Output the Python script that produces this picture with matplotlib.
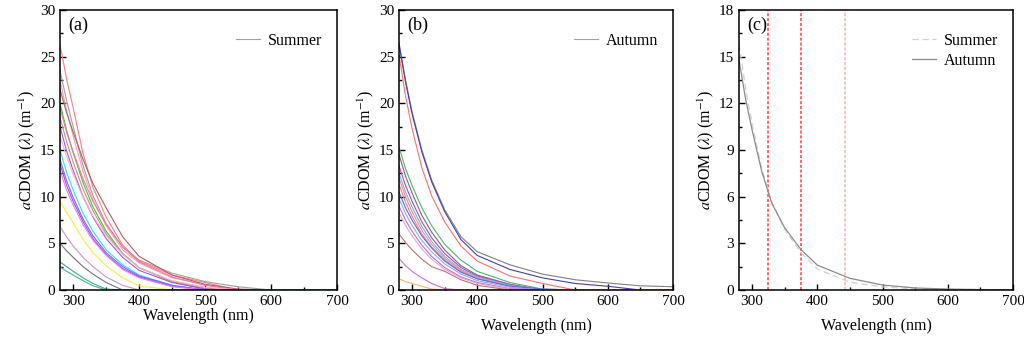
import numpy as np
import matplotlib.pyplot as plt
from matplotlib.ticker import MultipleLocator

plt.rcParams["font.family"] = ["Liberation Serif", "DejaVu Serif"]
plt.rcParams["mathtext.fontset"] = "stix"

WL = [280, 290, 300, 315, 330, 350, 375, 400, 450, 500, 550, 600, 650, 700]

# (a) summer stations: aCDOM (m^-1) at the WL knots
summer_colors = ["#ff7f7f", "#a0a0a0", "#ff9fb0", "#b06060", "#40c040", "#ff70b0",
                 "#d09070", "#9060e0", "#ffb0c8", "#30e0f0", "#6070ff", "#b040f0",
                 "#f080f0", "#f0f040", "#d090d0", "#707090", "#40b070", "#40b0b0"]
summer_curves = [
    [26.3, 22.6, 19.5, 14.6, 11.0, 7.8, 4.8, 3.1, 1.6, 0.8, 0.0, 0, 0, 0],
    [23.5, 20.3, 17.5, 13.3, 10.1, 7.1, 4.6, 3.2, 1.8, 0.9, 0.35, 0, 0, 0],
    [22.5, 19.2, 16.5, 12.7, 9.7, 6.9, 4.3, 2.9, 1.3, 0.6, 0, 0, 0, 0],
    [21.5, 19.0, 16.9, 14.0, 11.4, 8.8, 5.7, 3.6, 1.6, 0.6, 0.1, 0, 0, 0],
    [20.0, 17.1, 14.7, 11.5, 8.9, 6.3, 3.9, 2.4, 0.9, 0.1, 0, 0, 0, 0],
    [19.5, 16.9, 14.8, 11.9, 9.5, 7.0, 4.6, 3.0, 1.4, 0.5, 0, 0, 0, 0],
    [18.5, 15.9, 13.7, 10.8, 8.5, 6.0, 3.9, 2.4, 0.9, 0.2, 0, 0, 0, 0],
    [17.5, 14.9, 12.8, 10.0, 7.8, 5.5, 3.5, 2.1, 0.8, 0.1, 0, 0, 0, 0],
    [16.5, 14.3, 12.4, 9.9, 7.9, 5.8, 3.8, 2.4, 1.0, 0.3, 0, 0, 0, 0],
    [15.0, 12.6, 10.7, 8.2, 6.3, 4.3, 2.7, 1.6, 0.5, 0, 0, 0, 0, 0],
    [14.0, 11.7, 9.9, 7.6, 5.8, 4.0, 2.5, 1.5, 0.5, 0, 0, 0, 0, 0],
    [13.5, 11.2, 9.5, 7.3, 5.5, 3.8, 2.3, 1.4, 0.4, 0, 0, 0, 0, 0],
    [12.8, 10.7, 9.1, 7.0, 5.3, 3.7, 2.2, 1.3, 0.35, 0, 0, 0, 0, 0],
    [9.5, 8.3, 7.2, 5.4, 4.0, 2.6, 1.3, 0.45, 0, 0, 0, 0, 0, 0],
    [6.8, 5.7, 4.7, 3.5, 2.5, 1.4, 0.5, 0, 0, 0, 0, 0, 0, 0],
    [5.0, 4.2, 3.5, 2.5, 1.7, 0.8, 0, 0, 0, 0, 0, 0, 0, 0],
    [3.0, 2.5, 2.0, 1.3, 0.7, 0.1, 0, 0, 0, 0, 0, 0, 0, 0],
    [2.5, 2.0, 1.6, 1.0, 0.45, 0, 0, 0, 0, 0, 0, 0, 0, 0],
]

# (b) autumn stations
autumn_colors = ["#808080", "#4040b0", "#ff7070", "#50b070", "#707070", "#c040c0",
                 "#50c8c8", "#ff80c0", "#ff8070", "#5070e0", "#90a8ff", "#b070f0",
                 "#f0a0d0", "#c07070", "#d070d0", "#ffb070"]
autumn_curves = [
    [26.5, 22.5, 19.1, 15.0, 11.8, 8.6, 5.7, 4.1, 2.7, 1.7, 1.1, 0.75, 0.45, 0.35],
    [26.3, 22.3, 18.9, 14.8, 11.6, 8.4, 5.4, 3.7, 2.2, 1.3, 0.7, 0.4, 0, 0],
    [25.2, 20.8, 17.3, 13.1, 10.1, 7.3, 4.7, 3.1, 1.5, 0.7, 0, 0, 0, 0],
    [15.3, 13.0, 11.2, 8.8, 6.9, 4.9, 3.2, 2.0, 0.8, 0.1, 0, 0, 0, 0],
    [14.5, 12.2, 10.4, 8.0, 6.2, 4.3, 2.6, 1.6, 0.6, 0, 0, 0, 0, 0],
    [13.3, 11.2, 9.5, 7.3, 5.6, 3.9, 2.4, 1.5, 0.6, 0, 0, 0, 0, 0],
    [12.5, 10.5, 8.9, 6.8, 5.2, 3.6, 2.2, 1.4, 0.5, 0, 0, 0, 0, 0],
    [12.0, 10.0, 8.4, 6.4, 4.9, 3.4, 2.1, 1.3, 0.4, 0, 0, 0, 0, 0],
    [11.3, 9.4, 7.9, 6.0, 4.6, 3.2, 2.0, 1.2, 0.4, 0, 0, 0, 0, 0],
    [10.5, 8.8, 7.5, 5.8, 4.5, 3.1, 1.9, 1.2, 0.4, 0.1, 0, 0, 0, 0],
    [9.8, 8.2, 6.9, 5.3, 4.1, 2.8, 1.7, 1.0, 0.3, 0, 0, 0, 0, 0],
    [9.0, 7.5, 6.3, 4.8, 3.6, 2.4, 1.4, 0.8, 0.15, 0, 0, 0, 0, 0],
    [8.3, 6.9, 5.8, 4.4, 3.3, 2.2, 1.3, 0.7, 0.1, 0, 0, 0, 0, 0],
    [6.0, 5.1, 4.3, 3.3, 2.5, 2.0, 1.1, 0.5, 0, 0, 0, 0, 0, 0],
    [3.4, 2.6, 2.0, 1.3, 0.7, 0.15, 0, 0, 0, 0, 0, 0, 0, 0],
    [1.2, 0.9, 0.7, 0.4, 0.1, 0, 0, 0, 0, 0, 0, 0, 0, 0],
]

# (c) seasonal mean spectra
summer_mean = [15.8, 13.0, 10.7, 7.8, 5.7, 3.9, 2.4, 1.35, 0.5, 0.2, 0.07, 0.03, 0.01, 0]
autumn_mean = [14.8, 12.3, 10.3, 7.6, 5.6, 4.0, 2.6, 1.6, 0.75, 0.32, 0.13, 0.06, 0.03, 0.01]
ref_wl = [325, 375, 443]
ref_colors = ["#ff4040", "#ff4040", "#ffb0b0"]

YLAB = r"$a$CDOM ($\lambda$) (m$^{-1}$)"

fig = plt.figure(figsize=(10.24, 3.42), dpi=100)
axes = [fig.add_axes([60 / 1024, 52 / 342, 277 / 1024, 280 / 342]),
        fig.add_axes([399 / 1024, 52 / 342, 274 / 1024, 280 / 342]),
        fig.add_axes([739 / 1024, 52 / 342, 274 / 1024, 280 / 342])]


def style(ax, ymax, ystep, label, xpad):
    ax.set_xlim(280, 700)
    ax.set_ylim(0, ymax)
    ax.xaxis.set_major_locator(MultipleLocator(100))
    ax.xaxis.set_minor_locator(MultipleLocator(50))
    ax.yaxis.set_major_locator(MultipleLocator(ystep))
    ax.yaxis.set_minor_locator(MultipleLocator(ystep / 2))
    ax.tick_params(which="both", direction="in", top=False, right=False, labelsize=11)
    ax.tick_params(which="major", length=4, width=1)
    ax.tick_params(which="minor", length=2.5, width=1)
    for s in ax.spines.values():
        s.set_linewidth(1.1)
    ax.set_xlabel("Wavelength (nm)", fontsize=11.5, labelpad=xpad)
    ax.set_ylabel(YLAB, fontsize=11.5, labelpad=2)
    ax.text(0.03, 0.975, label, transform=ax.transAxes, fontsize=13, va="top", ha="left")


def season_legend(ax):
    ax.legend(loc="upper right", bbox_to_anchor=(1.0, 0.97), frameon=False, fontsize=11.5,
              handlelength=1.5, handletextpad=0.5, labelspacing=0.25)


ax = axes[0]
for vals, c in zip(summer_curves, summer_colors):
    ax.plot(WL, vals, color=c, lw=0.8)
ax.plot([], [], color="#a0a0a0", lw=0.8, label="Summer")
style(ax, 30, 5, "(a)", 0)
season_legend(ax)

ax = axes[1]
for vals, c in zip(autumn_curves, autumn_colors):
    ax.plot(WL, vals, color=c, lw=0.8)
ax.plot([], [], color="#a0a0a0", lw=0.8, label="Autumn")
style(ax, 30, 5, "(b)", 7)
season_legend(ax)

ax = axes[2]
for x, c in zip(ref_wl, ref_colors):
    ax.axvline(x, color=c, lw=1.1, ls=(0, (2, 1.2)))
ax.plot(WL, summer_mean, color="#d0d0d0", lw=0.9, ls=(0, (5, 3)), label="Summer")
ax.plot(WL, autumn_mean, color="#8c8c8c", lw=0.9, label="Autumn")
style(ax, 18, 3, "(c)", 7)
season_legend(ax)

fig.savefig("out.png", dpi=100)
